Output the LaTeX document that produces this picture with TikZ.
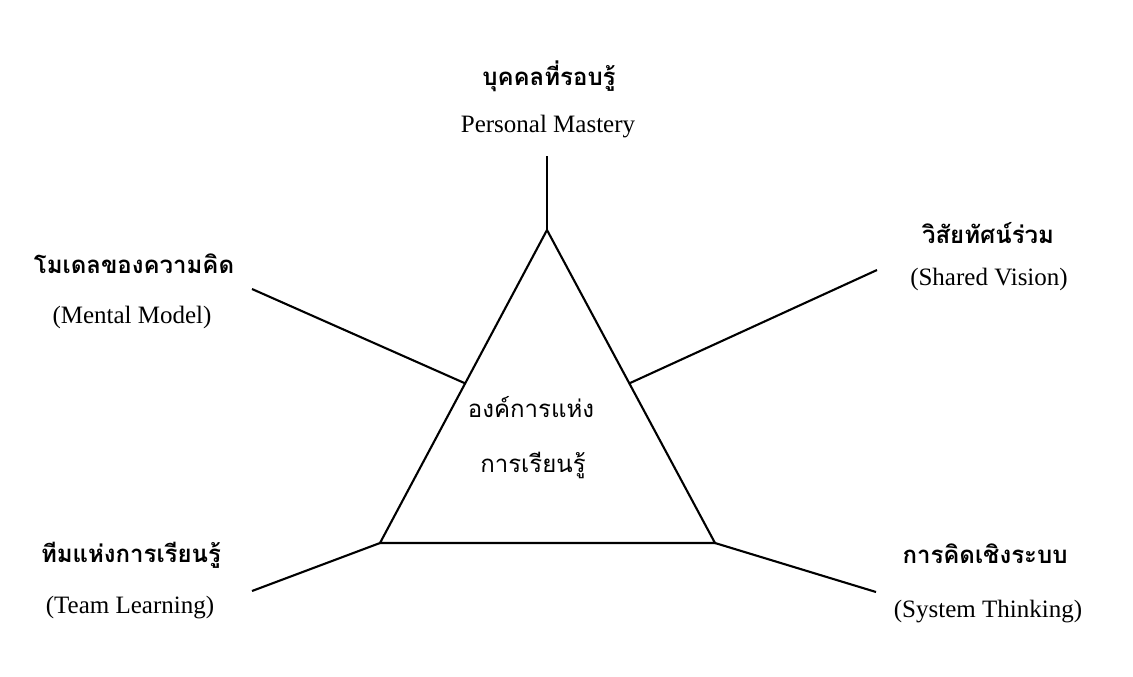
\documentclass[tikz,border=0pt]{standalone}
\usepackage{fontspec}
\usetikzlibrary{calc}
\setmainfont{Liberation Serif}
\newfontfamily\thaifont[Script=Thai]{Loma}
\begin{document}
\begin{tikzpicture}[x=1pt,y=-1pt,
  ln/.style={line width=2.1pt, line join=miter},
  thl/.style={font=\thaifont\bfseries\fontsize{24}{28}\selectfont, inner sep=0pt, anchor=base},
  enl/.style={font=\fontsize{25}{28}\selectfont, inner sep=0pt, anchor=base},
  ctr/.style={font=\thaifont\fontsize{24}{28}\selectfont, inner sep=0pt, anchor=base}]
\useasboundingbox (0,0) rectangle (1133,677);
% triangle vertices
\coordinate (T) at (547,230);
\coordinate (BL) at (380,543);
\coordinate (BR) at (715,543);
\coordinate (ML) at ($(T)!0.49!(BL)$);
\coordinate (MR) at ($(T)!0.49!(BR)$);
% free ends
\coordinate (eT) at (547,156);
\coordinate (eML) at (252,289);
\coordinate (eMR) at (877,270);
\coordinate (eBL) at (252,591);
\coordinate (eBR) at (876,592);
\draw[ln] (T) -- (BL) -- (BR) -- cycle;
\draw[ln] (T) -- (eT);
\draw[ln] (ML) -- (eML);
\draw[ln] (MR) -- (eMR);
\draw[ln] (BL) -- (eBL);
\draw[ln] (BR) -- (eBR);
% labels
\node[thl] (pmT) at (549,85) {บุคคลที่รอบรู้};
\node[enl] (pmE) at (548,132) {Personal Mastery};
\node[thl] (mmT) at (134,273) {โมเดลของความคิด};
\node[enl] (mmE) at (132,323) {(Mental Model)};
\node[thl] (svT) at (988,243) {วิสัยทัศน์ร่วม};
\node[enl] (svE) at (989,285) {(Shared Vision)};
\node[thl] (tlT) at (131,562) {ทีมแห่งการเรียนรู้};
\node[enl] (tlE) at (130,613) {(Team Learning)};
\node[thl] (stT) at (985,563) {การคิดเชิงระบบ};
\node[enl] (stE) at (988,617) {(System Thinking)};
\node[ctr] (c1) at (531,417) {องค์การแห่ง};
\node[ctr] (c2) at (533,472) {การเรียนรู้};
\end{tikzpicture}
\end{document}
